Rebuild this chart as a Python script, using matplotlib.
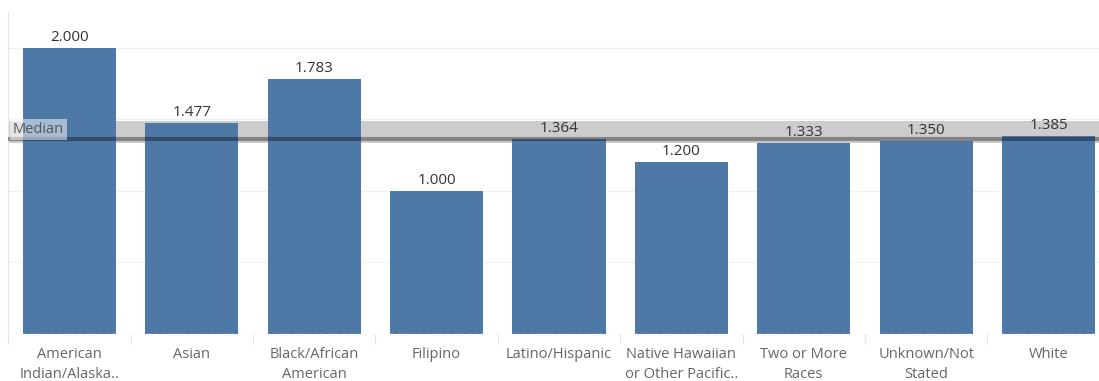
import matplotlib.pyplot as plt
import numpy as np

plt.rcParams['font.family'] = ['Open Sans', 'DejaVu Sans']

categories = ['American\nIndian/Alaska..', 'Asian', 'Black/African\nAmerican', 'Filipino',
              'Latino/Hispanic', 'Native Hawaiian\nor Other Pacific..', 'Two or More\nRaces',
              'Unknown/Not\nStated', 'White']
values = [2.000, 1.477, 1.783, 1.000, 1.364, 1.200, 1.333, 1.350, 1.385]
band_lo, band_hi = 1.335, 1.49

median = np.median(values)
x = np.arange(len(categories))

W, H = 1099, 381
fig = plt.figure(figsize=(W / 100, H / 100), dpi=100)
# axes run slightly past the right edge so the last column is clipped
ax = fig.add_axes([8.3 / W, 47 / H, 1101.4 / W, 322 / H])
ax.set_xlim(-0.5, len(categories) - 0.5)
ax.set_ylim(0, 2.25)

for g in [0.5, 1.0, 1.5, 2.0]:
    ax.axhline(g, color='#f0f0f0', lw=1, zorder=0)

# reference band and median line
ax.axhspan(band_lo, band_hi, color='#cccccc', lw=0, zorder=1)
ax.bar(x, values, width=0.76, color='#4e79a7', zorder=2)
ax.axhline(median, color='black', alpha=0.35, lw=3, zorder=3)

for xi, v in zip(x, values):
    ax.annotate(f'{v:.3f}', (xi, v), xytext=(0, 2), textcoords='offset points',
                ha='center', va='bottom', fontsize=11, color='#333333', zorder=5)

ax.text(0.004, median + 0.01, 'Median', transform=ax.get_yaxis_transform(),
        ha='left', va='bottom', fontsize=10.5, color='#555555', zorder=4,
        bbox=dict(boxstyle='square,pad=0.2', fc='white', ec='none', alpha=0.5))

for s in ['top', 'right', 'bottom']:
    ax.spines[s].set_visible(False)
ax.spines['left'].set_color('#e6e6e6')
ax.axhline(0, color='#e0e0e0', lw=1, ls=(0, (3, 2)), zorder=3)

ax.set_yticks([])
ax.set_xticks(np.arange(len(categories) + 1) - 0.5, minor=True)
ax.tick_params(axis='x', which='minor', length=7, color='#e6e6e6', width=1)
ax.set_xticks(x)
ax.set_xticklabels(categories, fontsize=10.5, color='#666666', linespacing=1.5)
ax.tick_params(axis='x', which='major', length=0, pad=9)

fig.savefig('out.png', dpi=100)
